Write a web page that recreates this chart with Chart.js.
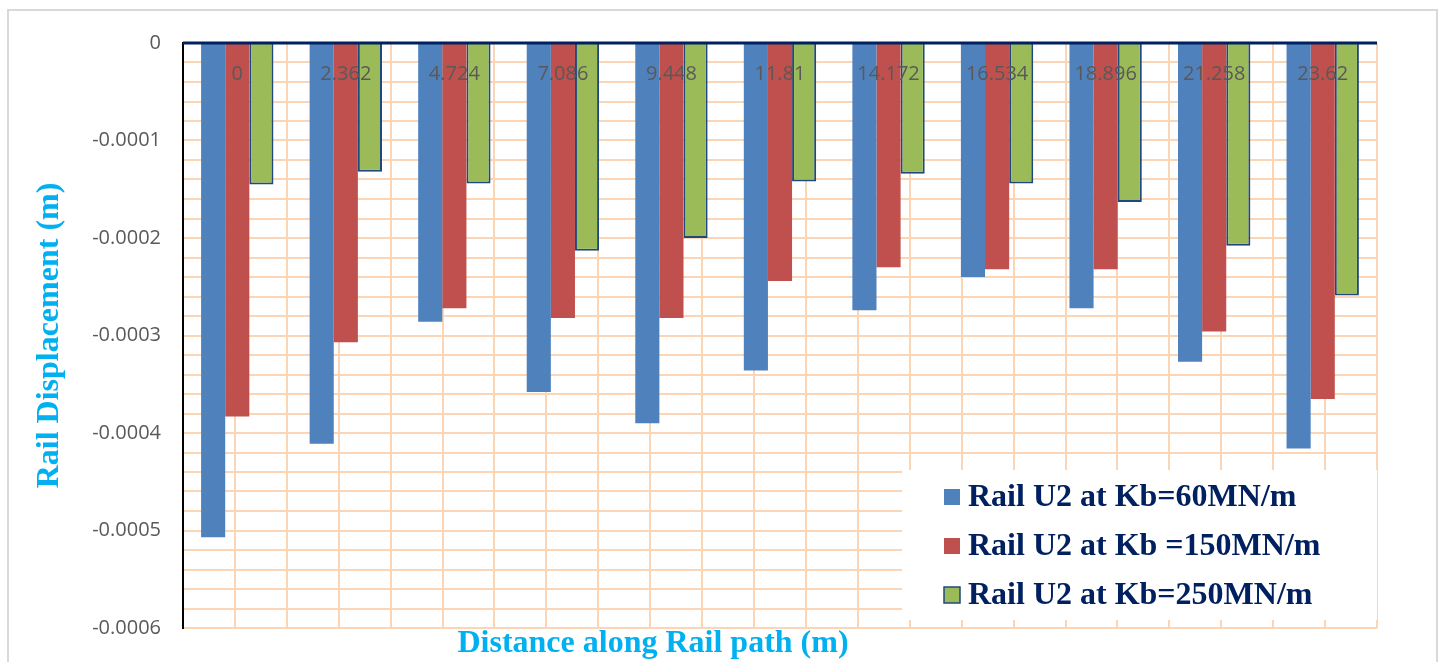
<!DOCTYPE html>
<html>
<head>
<meta charset="utf-8">
<script src="https://cdn.jsdelivr.net/npm/chart.js@4"></script>
<style>
  html, body { margin: 0; padding: 0; background: #fff; }
  #wrap { position: relative; width: 1446px; height: 662px; }
</style>
</head>
<body>
<div id="wrap"><canvas id="chart"></canvas></div>
<script>
const distance = ['0', '2.362', '4.724', '7.086', '9.448', '11.81', '14.172', '16.534', '18.896', '21.258', '23.62'];
const kb60 = [-0.000507, -0.000411, -0.000286, -0.000358, -0.00039, -0.000336, -0.000274, -0.00024, -0.000272, -0.000327, -0.000416];
const kb150 = [-0.000383, -0.000307, -0.000272, -0.000282, -0.000282, -0.000244, -0.00023, -0.000232, -0.000232, -0.000296, -0.000365];
const kb250 = [-0.000145, -0.000132, -0.000144, -0.000213, -0.0002, -0.000142, -0.000134, -0.000144, -0.000163, -0.000208, -0.000259];
const seriesNames = ['Rail U2 at Kb=60MN/m', 'Rail U2 at Kb =150MN/m', 'Rail U2 at Kb=250MN/m'];
const yMajor = [0, -0.0001, -0.0002, -0.0003, -0.0004, -0.0005, -0.0006];
const yLabels = ['0', '-0.0001', '-0.0002', '-0.0003', '-0.0004', '-0.0005', '-0.0006'];

const GRID = '#fcd5b4';
const NAVY = '#002060';

// frame, zero line, category labels inside the plot, legend box
const extras = {
  id: 'extras',
  afterDatasetsDraw(chart) {
    const { ctx, chartArea: a, scales } = chart;
    const y0 = scales.y.getPixelForValue(0);
    ctx.save();
    ctx.strokeStyle = NAVY;
    ctx.lineWidth = 3;
    ctx.beginPath();
    ctx.moveTo(a.left, y0);
    ctx.lineTo(a.right, y0);
    ctx.stroke();

    ctx.fillStyle = '#595959';
    ctx.font = '20px "Open Sans"';
    ctx.textAlign = 'center';
    ctx.textBaseline = 'middle';
    distance.forEach((d, i) => {
      ctx.fillText(d, scales.x.getPixelForValue(i), y0 + 31);
    });
    ctx.restore();
  },
  afterDraw(chart) {
    const { ctx, chartArea: a } = chart;
    ctx.save();
    // legend
    ctx.fillStyle = '#fff';
    ctx.fillRect(902, 470, a.right - 902, 150);
    const cols = chart.data.datasets.map(ds => ds.backgroundColor);
    ctx.font = 'bold 32px "Liberation Serif"';
    ctx.textBaseline = 'middle';
    ctx.textAlign = 'left';
    seriesNames.forEach((n, i) => {
      const cy = 497 + i * 49;
      ctx.fillStyle = cols[i];
      ctx.fillRect(944, cy - 8, 16, 16);
      if (i === 2) {
        ctx.strokeStyle = '#1f497d';
        ctx.lineWidth = 1.5;
        ctx.strokeRect(944, cy - 8, 16, 16);
      }
      ctx.fillStyle = NAVY;
      ctx.fillText(n, 968, cy + 1);
    });
    // x title
    ctx.fillStyle = '#00b0f0';
    ctx.font = 'bold 32px "Liberation Serif"';
    ctx.textAlign = 'center';
    ctx.fillText('Distance along Rail path (m)', 653, 644);
    // outer frame
    ctx.strokeStyle = '#d9d9d9';
    ctx.lineWidth = 2;
    ctx.strokeRect(8, 10, 1429, 660);
    ctx.restore();
  }
};

new Chart(document.getElementById('chart'), {
  type: 'bar',
  data: {
    labels: distance,
    datasets: [
      { label: seriesNames[0], data: kb60, backgroundColor: '#4f81bd', borderWidth: 0 },
      { label: seriesNames[1], data: kb150, backgroundColor: '#c0504d', borderWidth: 0 },
      { label: seriesNames[2], data: kb250, backgroundColor: '#9bbb59', borderColor: '#1f497d', borderWidth: 2, borderSkipped: 'start' }
    ]
  },
  options: {
    responsive: true,
    maintainAspectRatio: false,
    animation: false,
    categoryPercentage: 2 / 3,
    barPercentage: 1,
    layout: { padding: { left: 0, right: 69, top: 43, bottom: 31 } },
    plugins: { legend: { display: false }, tooltip: { enabled: false } },
    scales: {
      x: { display: false },
      xg: {
        type: 'linear',
        position: 'bottom',
        min: -0.5,
        max: distance.length - 0.5,
        ticks: { display: false, stepSize: 0.5 },
        grid: { color: GRID, lineWidth: 2, drawTicks: false },
        border: { display: false },
        afterFit: s => { s.height = 0; }
      },
      y: {
        min: -0.0006,
        max: 0,
        afterFit: s => { s.width = 183; },
        ticks: {
          stepSize: 0.00002,
          autoSkip: false,
          padding: 22,
          color: '#595959',
          font: { family: 'Open Sans', size: 20 },
          callback: v => {
            const i = yMajor.findIndex(m => Math.abs(m - v) < 1e-9);
            return i >= 0 ? yLabels[i] : '';
          }
        },
        grid: { color: GRID, lineWidth: 2, drawTicks: false },
        border: { color: '#000', width: 2 },
        title: {
          display: true,
          text: 'Rail Displacement (m)',
          color: '#00b0f0',
          font: { family: 'Liberation Serif', size: 32, weight: 'bold' },
          padding: { top: 31, bottom: 0 }
        }
      }
    }
  },
  plugins: [extras]
});
</script>
</body>
</html>
